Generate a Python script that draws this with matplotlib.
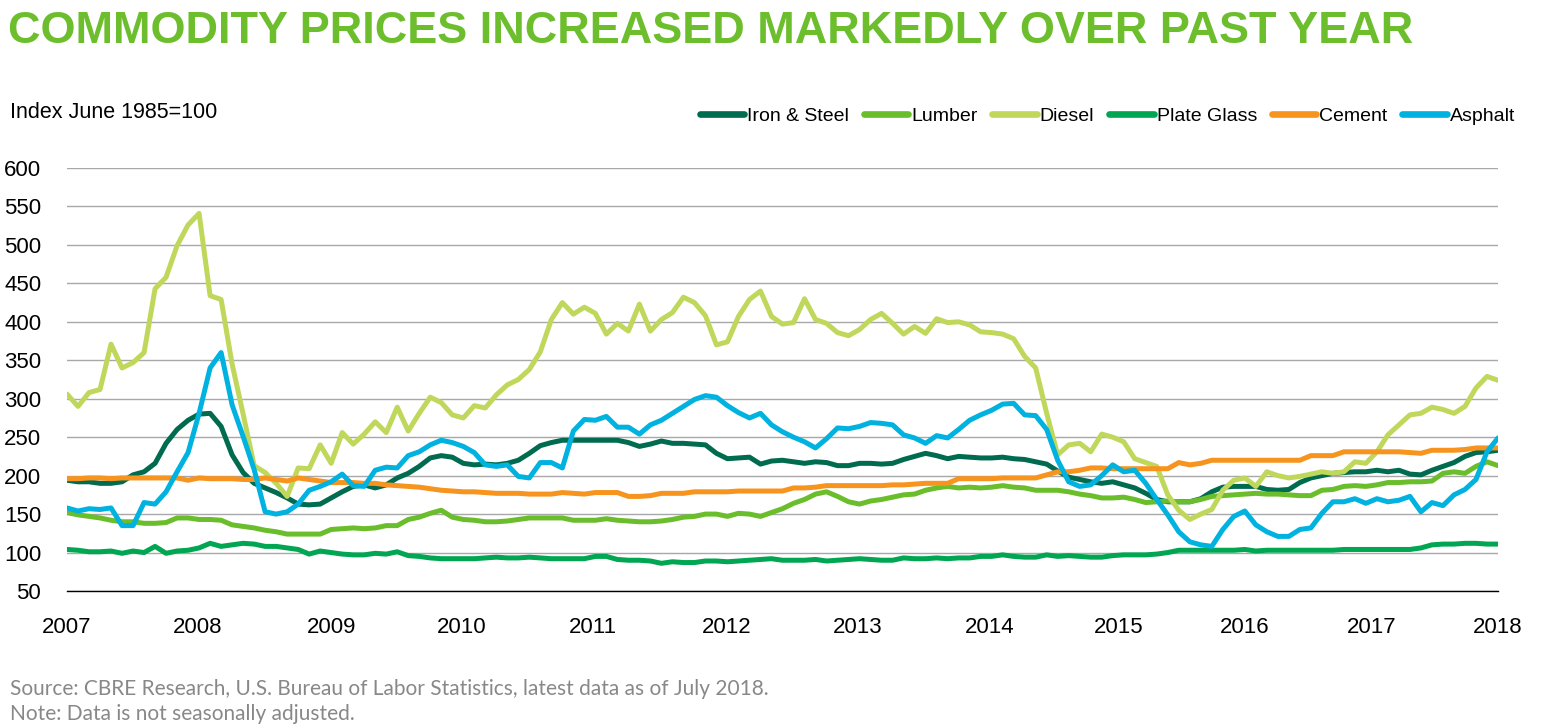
import matplotlib

matplotlib.use("Agg")

import matplotlib.pyplot as plt
import numpy as np
from matplotlib import font_manager

# monthly index values, Index June 1985 = 100
iron_steel = [
    194, 192, 192, 190, 190, 192, 201, 205, 216, 242, 260, 272, 280, 281, 264, 227, 204, 190, 184, 178,
    171, 163, 162, 163, 171, 179, 186, 188, 184, 188, 197, 203, 212, 223, 226, 224, 216, 214, 215, 214,
    216, 220, 229, 239, 243, 246, 246, 246, 246, 246, 246, 243, 238, 241, 245, 242, 242, 241, 240, 229,
    222, 223, 224, 215, 219, 220, 218, 216, 218, 217, 213, 213, 216, 216, 215, 216, 221, 225, 229, 226,
    222, 225, 224, 223, 223, 224, 222, 221, 218, 215, 206, 198, 195, 192, 190, 192, 188, 184, 177, 169,
    166, 166, 166, 170, 179, 185, 186, 186, 186, 182, 181, 182, 191, 197, 200, 203, 204, 205, 205, 207,
    205, 207, 202, 201, 207, 212, 217, 225, 230, 231, 233,
]
lumber = [
    152, 149, 147, 145, 142, 140, 140, 138, 138, 139, 145, 145, 143, 143, 142, 136, 134, 132, 129, 127,
    124, 124, 124, 124, 130, 131, 132, 131, 132, 135, 135, 143, 146, 151, 155, 146, 143, 142, 140, 140,
    141, 143, 145, 145, 145, 145, 142, 142, 142, 144, 142, 141, 140, 140, 141, 143, 146, 147, 150, 150,
    147, 151, 150, 147, 152, 157, 164, 169, 176, 179, 173, 166, 163, 167, 169, 172, 175, 176, 181, 184,
    186, 184, 185, 184, 185, 187, 185, 184, 181, 181, 181, 179, 176, 174, 171, 171, 172, 169, 165, 166,
    167, 166, 166, 169, 173, 174, 175, 176, 177, 176, 176, 175, 174, 174, 181, 182, 186, 187, 186, 188,
    191, 191, 192, 192, 193, 203, 205, 203, 212, 218, 213,
]
diesel = [
    306, 290, 308, 312, 371, 340, 347, 360, 443, 458, 499, 526, 541, 434, 429, 345, 280, 213, 204, 190,
    173, 210, 209, 240, 216, 256, 241, 254, 270, 256, 289, 258, 281, 302, 295, 279, 275, 291, 288, 305,
    318, 325, 338, 361, 403, 425, 410, 419, 411, 384, 398, 388, 423, 388, 403, 412, 432, 425, 408, 370,
    374, 407, 429, 440, 407, 397, 399, 430, 403, 398, 386, 382, 390, 403, 411, 398, 384, 394, 385, 404,
    399, 400, 396, 387, 386, 384, 378, 355, 340, 281, 227, 240, 242, 231, 254, 250, 244, 222, 217, 212,
    175, 155, 143, 150, 156, 181, 194, 197, 186, 205, 200, 197, 199, 202, 205, 203, 205, 218, 216, 231,
    253, 266, 279, 281, 289, 286, 281, 290, 314, 329, 324,
]
plate_glass = [
    104, 103, 101, 101, 102, 99, 102, 100, 108, 99, 102, 103, 106, 112, 108, 110, 112, 111, 108, 108,
    106, 104, 98, 102, 100, 98, 97, 97, 99, 98, 101, 96, 95, 93, 92, 92, 92, 92, 93, 94,
    93, 93, 94, 93, 92, 92, 92, 92, 95, 95, 91, 90, 90, 89, 86, 88, 87, 87, 89, 89,
    88, 89, 90, 91, 92, 90, 90, 90, 91, 89, 90, 91, 92, 91, 90, 90, 93, 92, 92, 93,
    92, 93, 93, 95, 95, 97, 95, 94, 94, 97, 95, 96, 95, 94, 94, 96, 97, 97, 97, 98,
    100, 103, 103, 103, 103, 103, 103, 104, 102, 103, 103, 103, 103, 103, 103, 103, 104, 104, 104, 104,
    104, 104, 104, 106, 110, 111, 111, 112, 112, 111, 111,
]
cement = [
    196, 196, 197, 197, 196, 197, 197, 197, 197, 197, 197, 194, 197, 196, 196, 196, 195, 195, 197, 195,
    193, 197, 195, 193, 191, 191, 191, 190, 190, 188, 187, 186, 185, 183, 181, 180, 179, 179, 178, 177,
    177, 177, 176, 176, 176, 178, 177, 176, 178, 178, 178, 173, 173, 174, 177, 177, 177, 179, 179, 179,
    179, 180, 180, 180, 180, 180, 184, 184, 185, 187, 187, 187, 187, 187, 187, 188, 188, 189, 190, 190,
    190, 196, 196, 196, 196, 197, 197, 197, 197, 201, 205, 205, 207, 210, 210, 209, 209, 209, 209, 209,
    209, 217, 214, 216, 220, 220, 220, 220, 220, 220, 220, 220, 220, 226, 226, 226, 231, 231, 231, 231,
    231, 231, 230, 229, 233, 233, 233, 234, 236, 236, 236,
]
asphalt = [
    158, 154, 157, 156, 158, 135, 135, 165, 163, 179, 205, 230, 281, 340, 360, 292, 251, 208, 153, 150,
    153, 163, 181, 186, 192, 202, 187, 186, 207, 211, 210, 226, 231, 240, 246, 243, 238, 230, 214, 212,
    214, 199, 197, 217, 217, 210, 258, 273, 272, 277, 263, 263, 254, 266, 272, 281, 290, 299, 304, 302,
    291, 282, 275, 281, 266, 257, 250, 244, 236, 248, 262, 261, 264, 269, 268, 266, 253, 249, 242, 252,
    249, 260, 272, 279, 285, 293, 294, 279, 278, 260, 220, 192, 186, 188, 200, 214, 205, 207, 190, 169,
    149, 127, 114, 110, 108, 130, 147, 154, 136, 127, 121, 121, 130, 132, 151, 166, 166, 170, 164, 170,
    166, 168, 173, 153, 165, 161, 175, 182, 195, 231, 249,
]

series_names = ["Iron & Steel", "Lumber", "Diesel", "Plate Glass", "Cement", "Asphalt"]
series_values = [iron_steel, lumber, diesel, plate_glass, cement, asphalt]
series_colors = ["#006B4F", "#6ABD2B", "#BFD85B", "#00A651", "#F7941E", "#00B2E0"]

year_labels = [str(y) for y in range(2007, 2019)]
year_ticks = [0, 11.9, 24, 35.9, 47.8, 59.9, 71.8, 83.8, 95.5, 107, 118.5, 130]

names = {f.name for f in font_manager.fontManager.ttflist}
NARROW = "Liberation Sans Narrow" if "Liberation Sans Narrow" in names else "Liberation Sans"
FOOT = "Lato" if "Lato" in names else "DejaVu Sans"

W, H = 1542, 726
fig = plt.figure(figsize=(W / 100, H / 100), dpi=100)
ax = fig.add_axes([67 / W, 1 - 591 / H, (1498 - 67) / W, (591 - 168) / H])

x = np.arange(len(iron_steel))
lines = []
for name, vals, col in zip(series_names, series_values, series_colors):
    (ln,) = ax.plot(x, vals, color=col, lw=3.6, label=name,
                    solid_capstyle="round", solid_joinstyle="round")
    lines.append(ln)

ax.set_xlim(0, len(x) - 1)
ax.set_ylim(50, 600)
ax.set_yticks(np.arange(50, 601, 50))
ax.set_xticks(year_ticks)
ax.set_xticklabels(year_labels)
ax.yaxis.grid(True, color="#A8A8A8", lw=1.0)
ax.set_axisbelow(True)
for side in ["top", "left", "right"]:
    ax.spines[side].set_visible(False)
ax.spines["bottom"].set_color("black")
ax.spines["bottom"].set_linewidth(1.0)
ax.tick_params(axis="both", length=0, labelsize=16, labelcolor="black")
ax.tick_params(axis="y", pad=18.5)
ax.tick_params(axis="x", pad=19)
for lab in ax.get_xticklabels() + ax.get_yticklabels():
    lab.set_fontfamily(NARROW)

leg = fig.legend(handles=lines, loc="center right", ncol=6, frameon=False,
                 bbox_to_anchor=(1515 / W, 1 - 116 / H), bbox_transform=fig.transFigure,
                 borderaxespad=0, borderpad=0, handlelength=2.3, handletextpad=0.15,
                 columnspacing=0.75, prop={"family": NARROW, "size": 14})
for h in leg.legend_handles:
    h.set_linewidth(4.8)

title = fig.text(8 / W, 1 - 43 / H, "COMMODITY PRICES INCREASED MARKEDLY OVER PAST YEAR",
                 color="#6DBE2D", fontsize=37, fontweight="bold", family=NARROW, va="baseline")
renderer = fig.canvas.get_renderer()
tw = title.get_window_extent(renderer).width
title.set_fontsize(37 * 1404 / tw)

fig.text(10 / W, 1 - 118 / H, "Index June 1985=100", fontsize=15.5, family=NARROW, va="baseline")

fig.text(10 / W, 1 - 695 / H,
         "Source: CBRE Research, U.S. Bureau of Labor Statistics, latest data as of July 2018.",
         fontsize=15, color="#888888", family=FOOT, va="baseline")
fig.text(10 / W, 1 - 720 / H, "Note: Data is not seasonally adjusted.",
         fontsize=15, color="#888888", family=FOOT, va="baseline")

fig.savefig("out.png", dpi=100)
